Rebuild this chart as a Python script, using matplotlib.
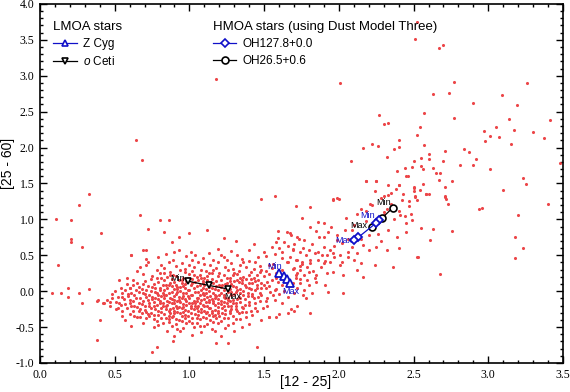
import matplotlib
matplotlib.use("Agg")
import matplotlib.pyplot as plt
from matplotlib.ticker import MultipleLocator, FormatStrFormatter
from matplotlib.lines import Line2D

plt.rcParams['font.family'] = ['Liberation Sans', 'DejaVu Sans']
plt.rcParams['mathtext.fontset'] = 'custom'
plt.rcParams['mathtext.it'] = 'Liberation Sans:italic'
plt.rcParams['mathtext.rm'] = 'Liberation Sans'

# IRAS colour-colour points ([12-25], [25-60])
core_pts = [
    (0.71, 0.57), (0.93, 0.58), (1.01, 0.55), (1.19, 0.59), (1.28, 0.56), (1.50, 0.54), (1.60, 0.60), (1.69, 0.57),
    (0.61, 0.50), (0.84, 0.52), (0.98, 0.49), (1.04, 0.51), (1.13, 0.53), (1.23, 0.48), (1.32, 0.50), (1.51, 0.49),
    (1.57, 0.52), (1.67, 0.48), (0.71, 0.45), (0.89, 0.44), (1.09, 0.46), (1.16, 0.43), (1.35, 0.45), (1.40, 0.42),
    (1.62, 0.46), (1.72, 0.44), (0.72, 0.40), (0.86, 0.41), (0.95, 0.39), (1.06, 0.40), (1.10, 0.38), (1.19, 0.41),
    (1.28, 0.39), (1.44, 0.40), (1.56, 0.38), (1.66, 0.41), (0.71, 0.36), (0.91, 0.35), (1.00, 0.37), (1.14, 0.36),
    (1.24, 0.34), (1.34, 0.37), (1.47, 0.35), (1.53, 0.36), (1.74, 0.35), (0.83, 0.32), (0.97, 0.31), (1.03, 0.33),
    (1.08, 0.30), (1.18, 0.32), (1.29, 0.31), (1.38, 0.33), (1.48, 0.30), (1.55, 0.32), (1.69, 0.31), (0.65, 0.28),
    (0.87, 0.27), (0.94, 0.29), (1.11, 0.28), (1.20, 0.26), (1.26, 0.29), (1.41, 0.27), (1.51, 0.28), (1.58, 0.26),
    (0.69, 0.24), (0.80, 0.25), (0.89, 0.23), (1.00, 0.24), (1.07, 0.22), (1.15, 0.25), (1.23, 0.23), (1.32, 0.24),
    (1.45, 0.22), (1.53, 0.24), (1.71, 0.23), (0.58, 0.19), (0.85, 0.20), (0.91, 0.21), (0.96, 0.19), (1.05, 0.20),
    (1.10, 0.18), (1.19, 0.21), (1.27, 0.19), (1.36, 0.20), (1.43, 0.18), (1.50, 0.21), (1.58, 0.19), (0.53, 0.16),
    (0.74, 0.17), (0.83, 0.15), (0.93, 0.16), (1.02, 0.17), (1.12, 0.15), (1.21, 0.16), (1.30, 0.14), (1.38, 0.17),
    (1.46, 0.16), (1.55, 0.15), (1.74, 0.17), (0.65, 0.12), (0.79, 0.13), (0.87, 0.11), (0.95, 0.12), (1.04, 0.13),
    (1.09, 0.11), (1.16, 0.12), (1.24, 0.10), (1.33, 0.13), (1.42, 0.12), (1.48, 0.11), (1.59, 0.13), (1.69, 0.12),
    (0.62, 0.08), (0.72, 0.07), (0.82, 0.09), (0.86, 0.08), (0.92, 0.06), (1.01, 0.08), (1.07, 0.09), (1.18, 0.07),
    (1.22, 0.08), (1.31, 0.06), (1.37, 0.09), (1.45, 0.08), (1.53, 0.07), (1.65, 0.08), (0.54, 0.04), (0.60, 0.05),
    (0.68, 0.03), (0.77, 0.04), (0.85, 0.05), (0.90, 0.03), (0.97, 0.04), (1.03, 0.05), (1.11, 0.03), (1.15, 0.04),
    (1.25, 0.05), (1.34, 0.03), (1.40, 0.04), (1.51, 0.05), (1.58, 0.03), (1.72, 0.04), (0.50, 0.00), (0.57, 0.01),
    (0.66, -0.01), (0.74, 0.00), (0.80, 0.01), (0.88, -0.01), (0.94, 0.00), (1.00, 0.01), (1.06, -0.01), (1.13, 0.00),
    (1.19, 0.01), (1.28, -0.01), (1.36, 0.00), (1.44, 0.01), (1.54, -0.01), (1.63, 0.00), (0.48, -0.04), (0.55, -0.03),
    (0.63, -0.05), (0.70, -0.04), (0.78, -0.03), (0.83, -0.05), (0.91, -0.04), (0.96, -0.03), (1.02, -0.05), (1.09, -0.04),
    (1.16, -0.03), (1.23, -0.05), (1.30, -0.04), (1.39, -0.03), (1.48, -0.05), (1.60, -0.04), (1.70, -0.03), (0.52, -0.08),
    (0.59, -0.07), (0.67, -0.09), (0.75, -0.08), (0.81, -0.07), (0.87, -0.09), (0.93, -0.08), (0.99, -0.07), (1.05, -0.09),
    (1.12, -0.08), (1.18, -0.07), (1.26, -0.09), (1.33, -0.08), (1.42, -0.07), (1.52, -0.09), (1.66, -0.08), (0.45, -0.12),
    (0.56, -0.11), (0.62, -0.13), (0.72, -0.12), (0.79, -0.11), (0.85, -0.13), (0.90, -0.12), (0.97, -0.11), (1.03, -0.13),
    (1.08, -0.12), (1.15, -0.11), (1.21, -0.13), (1.29, -0.12), (1.37, -0.11), (1.47, -0.13), (1.57, -0.12), (0.42, -0.16),
    (0.51, -0.15), (0.60, -0.17), (0.66, -0.16), (0.76, -0.15), (0.82, -0.17), (0.88, -0.16), (0.94, -0.15), (1.00, -0.17),
    (1.07, -0.16), (1.13, -0.15), (1.19, -0.17), (1.25, -0.16), (1.34, -0.15), (1.44, -0.17), (1.62, -0.16), (0.47, -0.20),
    (0.54, -0.19), (0.63, -0.21), (0.70, -0.20), (0.78, -0.19), (0.84, -0.21), (0.91, -0.20), (0.98, -0.19), (1.04, -0.21),
    (1.10, -0.20), (1.17, -0.19), (1.23, -0.21), (1.31, -0.20), (1.40, -0.19), (1.52, -0.21), (0.52, -0.24), (0.58, -0.23),
    (0.67, -0.25), (0.74, -0.24), (0.81, -0.23), (0.87, -0.25), (0.95, -0.24), (1.01, -0.23), (1.08, -0.25), (1.14, -0.24),
    (1.22, -0.23), (1.28, -0.25), (1.36, -0.24), (1.49, -0.23), (1.68, -0.25), (0.55, -0.28), (0.62, -0.27), (0.71, -0.29),
    (0.79, -0.28), (0.86, -0.27), (0.92, -0.29), (0.99, -0.28), (1.06, -0.27), (1.12, -0.29), (1.19, -0.28), (1.27, -0.27),
    (1.35, -0.29), (1.45, -0.28), (0.60, -0.32), (0.68, -0.31), (0.76, -0.33), (0.83, -0.32), (0.90, -0.31), (0.97, -0.33),
    (1.04, -0.32), (1.11, -0.31), (1.17, -0.33), (1.24, -0.32), (1.33, -0.31), (1.42, -0.33), (1.60, -0.32), (0.65, -0.36),
    (0.73, -0.35), (0.81, -0.37), (0.88, -0.36), (0.95, -0.35), (1.02, -0.37), (1.09, -0.36), (1.16, -0.35), (1.26, -0.37),
    (1.38, -0.36), (0.57, -0.40), (0.78, -0.41), (0.86, -0.39), (0.93, -0.40), (1.00, -0.41), (1.07, -0.39), (1.14, -0.40),
    (1.21, -0.41), (1.31, -0.39), (1.48, -0.40), (0.69, -0.45), (0.82, -0.44), (0.91, -0.46), (0.98, -0.45), (1.05, -0.44),
    (1.12, -0.46), (1.19, -0.45), (1.29, -0.44), (1.40, -0.46), (0.76, -0.50), (0.88, -0.49), (0.96, -0.51), (1.03, -0.50),
    (1.10, -0.49), (1.24, -0.51), (1.35, -0.50), (0.85, -0.56), (0.94, -0.55), (1.08, -0.57), (1.17, -0.56), (1.30, -0.55),
    (0.90, -0.62), (1.02, -0.61), (1.21, -0.63),
]

fill_pts = [
    (0.83, 0.26), (0.97, 0.27), (1.13, 0.25), (1.30, 0.26), (1.47, 0.27), (0.78, 0.18), (0.88, 0.17), (0.99, 0.18),
    (1.08, 0.19), (1.15, 0.17), (1.25, 0.18), (1.34, 0.19), (1.41, 0.17), (0.70, 0.14), (0.90, 0.13), (0.98, 0.14),
    (1.06, 0.15), (1.14, 0.13), (1.27, 0.14), (1.35, 0.15), (1.52, 0.13), (0.76, 0.10), (0.84, 0.09), (0.97, 0.10),
    (1.13, 0.11), (1.20, 0.09), (1.28, 0.10), (1.40, 0.11), (1.62, 0.09), (0.66, 0.06), (0.80, 0.05), (0.88, 0.07),
    (0.94, 0.06), (1.05, 0.07), (1.09, 0.05), (1.21, 0.06), (1.29, 0.07), (1.48, 0.05), (0.71, 0.02), (0.83, 0.01),
    (0.92, 0.03), (0.99, 0.02), (1.08, 0.01), (1.17, 0.03), (1.23, 0.02), (1.32, 0.01), (1.41, 0.03), (1.57, 0.02),
    (0.61, -0.02), (0.77, -0.01), (0.86, -0.03), (0.98, -0.02), (1.04, -0.01), (1.11, -0.03), (1.21, -0.02), (1.26, -0.01),
    (1.34, -0.03), (1.47, -0.02), (0.73, -0.06), (0.84, -0.05), (0.90, -0.07), (1.01, -0.06), (1.07, -0.05), (1.14, -0.07),
    (1.20, -0.06), (1.28, -0.05), (1.39, -0.07), (1.56, -0.06), (0.64, -0.10), (0.77, -0.09), (0.88, -0.11), (0.95, -0.10),
    (1.00, -0.09), (1.10, -0.11), (1.17, -0.10), (1.24, -0.09), (1.32, -0.11), (1.43, -0.10), (0.69, -0.14), (0.80, -0.13),
    (0.86, -0.15), (0.92, -0.14), (1.05, -0.13), (1.11, -0.15), (1.16, -0.14), (1.27, -0.13), (1.40, -0.15), (1.51, -0.14),
    (0.57, -0.18), (0.73, -0.17), (0.85, -0.19), (0.96, -0.18), (1.02, -0.17), (1.09, -0.19), (1.21, -0.18), (1.29, -0.17),
    (1.37, -0.19), (0.65, -0.22), (0.76, -0.21), (0.89, -0.23), (0.93, -0.22), (1.06, -0.21), (1.13, -0.23), (1.19, -0.22),
    (1.26, -0.21), (1.44, -0.23), (0.70, -0.26), (0.84, -0.25), (0.90, -0.27), (0.97, -0.26), (1.03, -0.25), (1.10, -0.27),
    (1.17, -0.26), (1.31, -0.25), (1.41, -0.27), (0.74, -0.30), (0.81, -0.29), (0.94, -0.31), (1.01, -0.30), (1.08, -0.29),
    (1.15, -0.31), (1.22, -0.30), (1.38, -0.29), (0.63, -0.34), (0.79, -0.33), (0.86, -0.35), (0.99, -0.34), (1.13, -0.33),
    (1.20, -0.35), (1.29, -0.34), (0.71, -0.38), (0.84, -0.37), (0.91, -0.39), (1.05, -0.38), (1.18, -0.37), (1.34, -0.39),
]

extra_pts = [
    (0.67, 0.33), (0.78, 0.29), (0.81, 0.37), (1.02, 0.28), (1.16, 0.30), (1.33, 0.28), (1.43, 0.31), (0.75, 0.21),
    (0.87, 0.23), (1.03, 0.23), (1.12, 0.21), (1.29, 0.22), (1.40, 0.23), (0.62, 0.15), (0.81, 0.19), (0.95, 0.15),
    (1.09, 0.14), (1.18, 0.14), (1.32, 0.16), (1.44, 0.14), (0.58, 0.10), (0.69, 0.10), (0.91, 0.09), (1.02, 0.11),
    (1.10, 0.08), (1.25, 0.12), (1.35, 0.11), (1.50, 0.09), (0.64, 0.02), (0.75, 0.06), (0.96, 0.07), (1.13, 0.06),
    (1.27, 0.03), (1.38, 0.06), (1.45, 0.04), (0.59, -0.04), (0.69, -0.02), (0.82, -0.02), (0.92, -0.01), (1.09, -0.02),
    (1.17, -0.05), (1.31, -0.01), (1.42, -0.04), (0.55, -0.08), (0.71, -0.08), (0.79, -0.06), (0.96, -0.07), (1.10, -0.06),
    (1.23, -0.08), (1.36, -0.06), (1.46, -0.08), (0.60, -0.12), (0.75, -0.11), (0.83, -0.10), (0.93, -0.12), (1.06, -0.10),
    (1.13, -0.12), (1.19, -0.11), (1.26, -0.12), (1.34, -0.10), (0.53, -0.16), (0.68, -0.18), (0.80, -0.16), (0.90, -0.17),
    (0.98, -0.14), (1.04, -0.16), (1.16, -0.17), (1.23, -0.15), (1.31, -0.16), (0.61, -0.20), (0.73, -0.21), (0.82, -0.20),
    (0.96, -0.22), (1.01, -0.20), (1.12, -0.20), (1.28, -0.20), (1.35, -0.22), (0.66, -0.27), (0.77, -0.25), (0.92, -0.24),
    (1.05, -0.23), (1.15, -0.27), (1.24, -0.26), (1.32, -0.28), (0.72, -0.32), (0.87, -0.30), (0.96, -0.29), (1.06, -0.33),
    (1.19, -0.31), (1.27, -0.30), (0.76, -0.39), (0.89, -0.34), (0.97, -0.38), (1.11, -0.38), (1.23, -0.38), (0.86, -0.43),
    (0.95, -0.42), (1.02, -0.44), (1.16, -0.43), (0.79, -0.47), (1.07, -0.48), (1.26, -0.47), (0.92, -0.52), (1.15, -0.52),
    (1.36, 0.40), (1.25, 0.44), (1.02, 0.44), (0.79, 0.47), (1.46, 0.47), (1.21, 0.51), (0.90, 0.55), (1.40, 0.58),
]

tail_pts = [
    (1.55, 0.62), (1.58, 0.68), (1.62, 0.55), (1.66, 0.63), (1.70, 0.66), (1.73, 0.72), (1.68, 0.78), (1.76, 0.60),
    (1.78, 0.50), (1.81, 0.44), (1.75, 0.38), (1.79, 0.33), (1.83, 0.28), (1.77, 0.22), (1.72, 0.26), (1.70, 0.32),
    (1.65, 0.40), (1.62, 0.30), (1.74, 0.12), (1.80, 0.08), (1.84, 0.19), (1.88, 0.34), (1.91, 0.42), (1.86, 0.55),
    (1.90, 0.62), (1.94, 0.58), (1.97, 0.48), (2.02, 0.40), (2.06, 0.55), (2.10, 0.44), (1.99, 0.78), (2.04, 0.85),
    (2.10, 0.92), (1.93, 0.82), (1.87, 0.75), (1.82, 0.66), (1.78, -0.10), (1.72, -0.20), (1.81, -0.30), (1.70, -0.27),
    (1.76, -0.05), (1.66, -0.30), (1.58, -0.36), (1.53, -0.36), (1.59, 0.84), (1.65, 0.83), (1.59, 0.74), (1.63, 0.69),
    (2.18, 1.54), (2.25, 1.54), (2.45, 1.60), (2.40, 1.48), (2.50, 1.43), (1.96, 1.27), (2.00, 1.29), (2.21, 1.22),
    (2.32, 1.15), (2.42, 1.27), (2.47, 1.18), (2.52, 1.27), (1.71, 1.19), (1.81, 1.17), (2.15, 1.15), (2.18, 1.11),
    (2.30, 1.06), (2.37, 1.01), (2.41, 1.06), (2.45, 0.95), (2.49, 0.99), (1.75, 1.02), (1.86, 0.97), (1.90, 0.95),
    (1.95, 0.90), (2.09, 0.85), (1.81, 0.90), (1.67, 0.81), (1.72, 0.76), (1.77, 0.71), (1.90, 0.76), (1.99, 0.71),
    (2.02, 0.67), (2.09, 0.62), (2.16, 0.64), (2.20, 0.57), (2.25, 0.62), (2.32, 0.57), (2.40, 0.60), (2.53, 0.48),
    (1.69, 0.59), (1.74, 0.55), (1.80, 0.57), (1.84, 0.53), (1.89, 0.50), (1.92, 0.51), (1.96, 0.53), (2.01, 0.50),
    (2.06, 0.48), (2.12, 0.53), (1.71, 0.43), (1.75, 0.41), (1.81, 0.39), (1.86, 0.43), (1.90, 0.39), (1.94, 0.41),
    (2.01, 0.37), (2.15, 0.39), (2.24, 0.37), (1.74, 0.30), (1.80, 0.27), (1.85, 0.23), (1.92, 0.25), (1.96, 0.27),
    (2.03, 0.23), (2.12, 0.30), (2.16, 0.20), (1.71, 0.18), (1.79, 0.16), (1.85, 0.13), (1.91, 0.09), (2.03, -0.03),
    (1.93, -0.01), (1.77, 0.02), (1.82, -0.03), (2.28, 1.30), (2.35, 1.22), (2.40, 1.12), (2.44, 1.05), (2.47, 1.25),
    (2.50, 1.40), (2.38, 1.42), (2.30, 1.10), (2.18, 0.98), (2.22, 1.20), (2.26, 0.80), (2.33, 0.85), (2.45, 0.82),
    (2.15, 0.72), (2.36, 0.33), (2.52, 0.48), (2.68, 0.24), (2.05, 1.02), (2.12, 1.08), (2.24, 1.40), (2.33, 1.48),
    (2.43, 1.36), (2.48, 1.08), (1.85, 0.84), (1.97, 0.63), (2.06, 0.73), (2.20, 0.78), (2.28, 0.70), (2.39, 0.75),
]

outer_pts = [
    (2.52, 3.75), (2.51, 3.51), (2.67, 3.39), (2.70, 3.43), (2.01, 2.90), (2.77, 2.91), (3.26, 2.90), (2.63, 2.75),
    (2.74, 2.76), (3.09, 2.73), (2.90, 2.62), (3.19, 2.59), (2.27, 2.45), (2.57, 2.48), (2.77, 2.41), (2.30, 2.33),
    (2.33, 2.34), (3.14, 2.40), (3.41, 2.38), (2.54, 2.29), (3.05, 2.29), (2.97, 2.23), (3.17, 2.25), (2.52, 2.17),
    (3.01, 2.16), (3.07, 2.15), (3.30, 2.22), (3.37, 2.13), (2.40, 2.11), (2.98, 2.09), (2.16, 1.99), (2.22, 2.05),
    (2.26, 2.02), (2.37, 1.98), (2.40, 2.01), (2.57, 2.04), (3.15, 2.05), (2.84, 1.98), (2.87, 1.94), (2.60, 1.91),
    (2.71, 1.95), (2.32, 1.87), (2.55, 1.86), (2.60, 1.84), (2.08, 1.81), (2.50, 1.81), (2.70, 1.81), (2.92, 1.84),
    (3.48, 1.78), (2.81, 1.76), (2.90, 1.76), (2.44, 1.72), (2.49, 1.73), (2.55, 1.74), (2.56, 1.70), (2.63, 1.72),
    (3.01, 1.70), (2.39, 1.67), (2.65, 1.64), (2.68, 1.65), (2.46, 1.60), (2.18, 1.54), (2.25, 1.54), (2.67, 1.55),
    (2.76, 1.54), (3.23, 1.57), (3.25, 1.49), (2.40, 1.48), (2.50, 1.45), (2.56, 1.49), (2.71, 1.45), (2.54, 1.41),
    (3.10, 1.41), (2.30, 1.33), (2.33, 1.34), (2.35, 1.37), (2.58, 1.35), (2.60, 1.35), (2.51, 1.31), (2.71, 1.31),
    (1.96, 1.28), (1.99, 1.30), (2.51, 1.32), (2.58, 1.35), (2.71, 1.32), (2.72, 1.29), (2.73, 1.22), (2.94, 1.14),
    (2.96, 1.16), (3.40, 1.22), (3.20, 1.06), (2.55, 0.88), (2.63, 0.87), (2.76, 0.84), (2.61, 0.71), (3.18, 0.75),
    (3.23, 0.60), (3.18, 0.46), (1.18, 2.95), (0.64, 2.11), (0.68, 1.83), (0.33, 1.35), (1.48, 1.28), (1.57, 1.33),
    (0.26, 1.20), (0.11, 1.00), (0.21, 0.99), (0.67, 1.06), (0.72, 0.87), (0.80, 0.99), (0.86, 0.99), (0.83, 0.82),
    (0.41, 0.81), (0.93, 0.76), (1.00, 0.81), (1.12, 0.85), (0.88, 0.69), (1.23, 0.74), (1.31, 0.70), (1.43, 0.66),
    (0.21, 0.73), (0.21, 0.69), (0.28, 0.62), (0.12, 0.37), (0.08, -0.03), (0.14, -0.02), (0.19, 0.04), (0.19, -0.08),
    (0.26, -0.02), (0.33, 0.03), (0.28, -0.17), (0.38, -0.13), (0.40, -0.40), (0.38, -0.68), (0.61, 0.50), (0.69, 0.58),
    (0.75, -0.85), (0.78, -0.78), (0.89, -0.70), (1.18, -0.72), (1.26, -0.72), (1.45, -0.78), (1.53, -0.36), (0.61, -0.48),
    (0.67, -0.36), (0.48, -0.10), (0.39, -0.12), (0.43, -0.17), (0.47, -0.15), (0.51, -0.25), (0.55, -0.34), (0.60, 0.05),
]

# tracks of the four stars
ceti_x = [0.99, 1.13, 1.26]
ceti_y = [0.14, 0.08, 0.03]
zcyg_x = [1.60, 1.63, 1.65, 1.67]
zcyg_y = [0.25, 0.21, 0.17, 0.11]
oh127_x = [2.27, 2.25, 2.13, 2.10]
oh127_y = [0.99, 0.95, 0.75, 0.71]
oh26_x = [2.36, 2.29, 2.22]
oh26_y = [1.16, 1.02, 0.89]

red = '#ec4548'
blue = '#1010c8'

all_pts = core_pts + fill_pts + extra_pts + tail_pts + outer_pts
px = [p[0] for p in all_pts]
py = [p[1] for p in all_pts]

fig = plt.figure(figsize=(5.7, 3.92), dpi=100)
ax = fig.add_axes([0.0702, 0.074, 0.9175, 0.916])

ax.scatter(px, py, s=5, color=red, linewidths=0, zorder=2)

ax.plot(ceti_x, ceti_y, color='black', lw=0.9, marker='v', ms=5, mfc='white', mec='black', mew=1.2, zorder=4)
ax.plot(zcyg_x, zcyg_y, color=blue, lw=0.9, marker='^', ms=5.5, mfc='white', mec=blue, mew=1.3, zorder=4)
ax.plot(oh26_x, oh26_y, color='black', lw=0.9, marker='o', ms=5, mfc='white', mec='black', mew=1.2, zorder=4)
ax.plot(oh127_x, oh127_y, color=blue, lw=0.9, marker='D', ms=4, mfc='white', mec=blue, mew=1.3, zorder=5)

lab = dict(fontsize=6.5, zorder=6)
ax.text(0.92, 0.18, 'Min', color='black', ha='center', va='center', **lab)
ax.text(1.29, -0.08, 'Max', color='black', ha='center', va='center', **lab)
ax.text(1.57, 0.35, 'Min', color=blue, ha='center', va='center', **lab)
ax.text(1.68, -0.01, 'Max', color=blue, ha='center', va='center', **lab)
ax.text(2.30, 1.23, 'Min', color='black', ha='center', va='center', **lab)
ax.text(2.13, 0.92, 'Max', color='black', ha='center', va='center', **lab)
ax.text(2.19, 1.06, 'Min', color=blue, ha='center', va='center', **lab)
ax.text(2.03, 0.70, 'Max', color=blue, ha='center', va='center', **lab)

ax.set_xlim(0, 3.5)
ax.set_ylim(-1.0, 4.0)
ax.xaxis.set_major_locator(MultipleLocator(0.5))
ax.xaxis.set_minor_locator(MultipleLocator(0.1))
ax.yaxis.set_major_locator(MultipleLocator(0.5))
ax.yaxis.set_minor_locator(MultipleLocator(0.1))
ax.xaxis.set_major_formatter(FormatStrFormatter('%.1f'))
ax.yaxis.set_major_formatter(FormatStrFormatter('%.1f'))
ax.tick_params(which='both', direction='in', top=True, right=True, width=1.0)
ax.tick_params(which='major', length=5, labelsize=8.5, pad=4)
ax.tick_params(which='minor', length=2.5)
for t in ax.get_xticklabels() + ax.get_yticklabels():
    t.set_fontfamily('Liberation Serif')
for s in ax.spines.values():
    s.set_linewidth(1.2)

fig.text(306 / 570, 1 - 382 / 392, '[12 - 25]', fontsize=10, ha='center', va='center')
fig.text(8 / 570, 1 - 163 / 392, '[25 - 60]', fontsize=10, rotation=90, ha='center', va='center')

h_zcyg = Line2D([], [], color=blue, lw=0.9, marker='^', ms=5, mfc='white', mec=blue, mew=1.2)
h_ceti = Line2D([], [], color='black', lw=0.9, marker='v', ms=5, mfc='white', mec='black', mew=1.2)
h_oh127 = Line2D([], [], color=blue, lw=0.9, marker='D', ms=4, mfc='white', mec=blue, mew=1.2)
h_oh26 = Line2D([], [], color='black', lw=0.9, marker='o', ms=5, mfc='white', mec='black', mew=1.2)

leg1 = ax.legend([h_zcyg, h_ceti], ['Z Cyg', r'$o$ Ceti'], title='LMOA stars', loc='upper left',
                 bbox_to_anchor=(0.005, 0.981), frameon=False, fontsize=8.5, title_fontsize=9.5,
                 handlelength=2.0, handletextpad=0.5, labelspacing=0.4, alignment='left')
ax.add_artist(leg1)
ax.legend([h_oh127, h_oh26], ['OH127.8+0.0', 'OH26.5+0.6'], title='HMOA stars (using Dust Model Three)',
          loc='upper left', bbox_to_anchor=(0.31, 0.981), frameon=False, fontsize=8.5, title_fontsize=9.5,
          handlelength=2.0, handletextpad=0.5, labelspacing=0.4, alignment='left')

fig.savefig('out.png', dpi=100)
